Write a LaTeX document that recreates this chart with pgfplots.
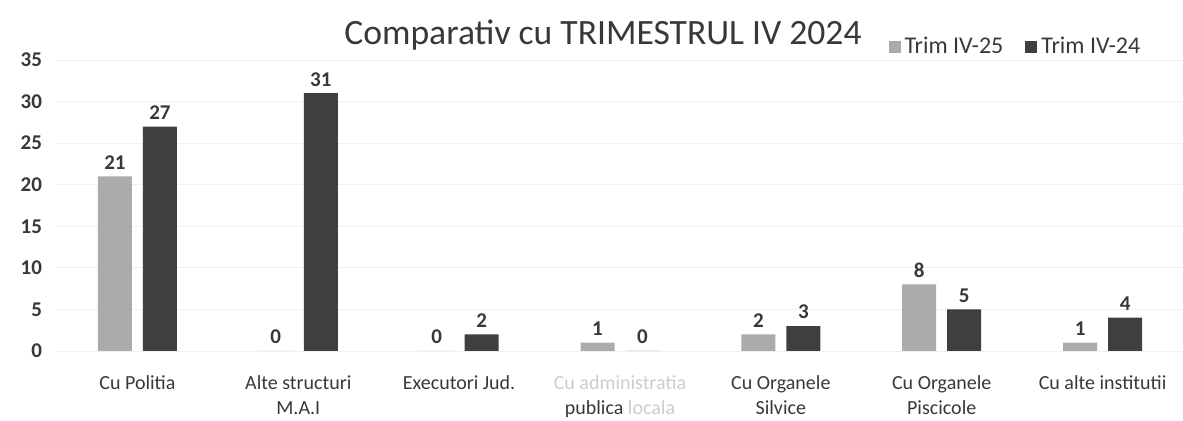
\documentclass[border=0pt]{standalone}
\usepackage{pgfplots}
\pgfplotsset{compat=1.18}
\usepackage{fontspec}
\setmainfont{Carlito}
\definecolor{lgt}{HTML}{ABABAB}
\definecolor{drk}{HTML}{3F3F3F}
\definecolor{txt}{HTML}{383838}
\begin{document}
\begin{tikzpicture}
\useasboundingbox (-28.5pt,-35pt) rectangle (563pt,175.5pt);
\begin{axis}[
    anchor=south west, at={(0,0)},
    scale only axis, width=563pt, height=145.5pt,
    ybar=5.5pt, bar width=17pt,
    xmin=-0.5, xmax=6.5, ymin=0, ymax=35,
    xtick=data, ytick={0,5,...,35},
    xticklabels={Cu Politia, Alte structuri\\M.A.I, Executori Jud., {\color{gray!40}Cu administratia}\\publica {\color{gray!40}locala}, Cu Organele\\Silvice, Cu Organele\\Piscicole, Cu alte institutii},
    xticklabel style={align=center, font=\fontsize{10}{12.5}\selectfont, text=txt, yshift=-9pt},
    yticklabel style={font=\bfseries\fontsize{10.5}{12}\selectfont, text=txt, xshift=-4pt},
    /pgf/number format/assume math mode=true,
    major tick length=0pt,
    axis line style={draw=none},
    ymajorgrids, grid style={black!6},
    nodes near coords,
    every node near coord/.append style={font=\bfseries\fontsize{10.5}{12}\selectfont, text=txt},
    legend style={draw=none, fill=none, at={(0.852,1.045)}, anchor=center, font=\fontsize{12}{13}\selectfont, text=txt, legend columns=2, /tikz/every even column/.append style={column sep=9pt}},
    legend image code/.code={\fill[#1] (0pt,-3pt) rectangle (6pt,3pt);},
]
\addplot[fill=lgt, draw=none] coordinates {(0,21) (1,0) (2,0) (3,1) (4,2) (5,8) (6,1)};
\addplot[fill=drk, draw=none] coordinates {(0,27) (1,31) (2,2) (3,0) (4,3) (5,5) (6,4)};
\legend{Trim IV-25, Trim IV-24}
\end{axis}
\node[text=txt, font=\fontsize{17.8}{20}\selectfont] at (273pt,158pt) {Comparativ cu TRIMESTRUL IV 2024};
\end{tikzpicture}
\end{document}
